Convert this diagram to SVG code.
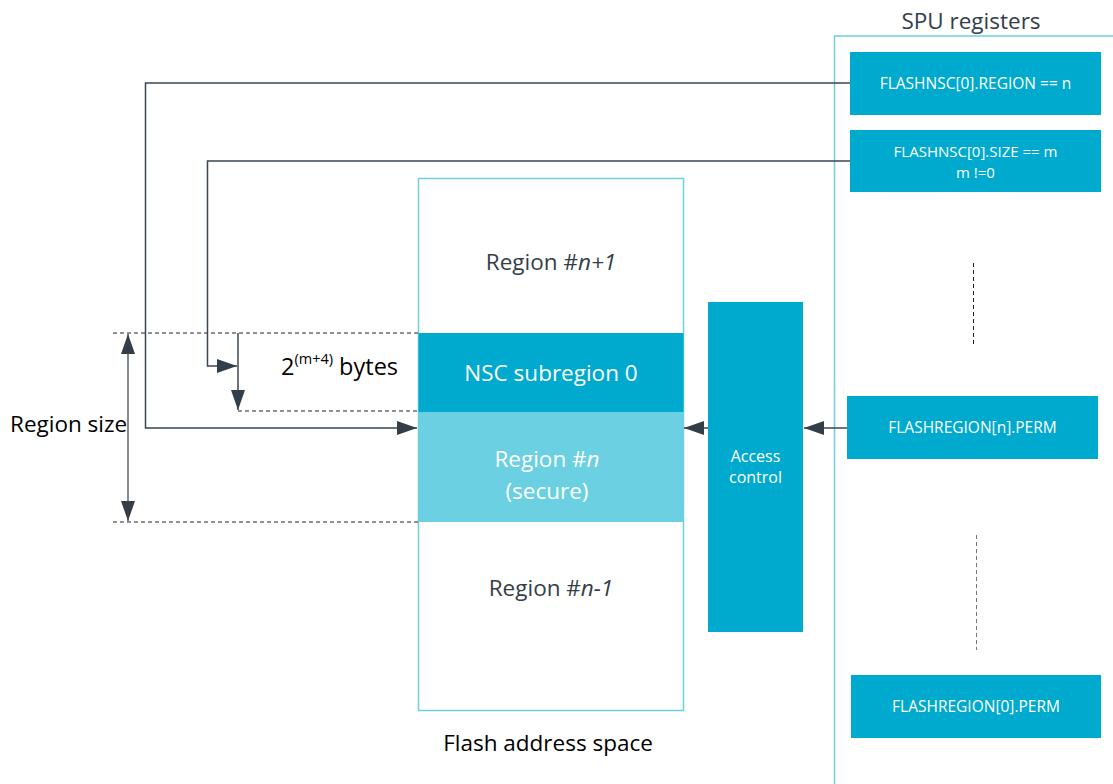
<svg xmlns="http://www.w3.org/2000/svg" width="1113" height="784" viewBox="0 0 1113 784">
<defs>
<style>
.frame{fill:none;stroke:#6dcfe0;stroke-width:1.5}
.reg{fill:#00a9ce}
.wt{fill:#ffffff;font-family:"Open Sans","Liberation Sans",sans-serif}
.dt{fill:#333e48;font-family:"Open Sans","Liberation Sans",sans-serif}
.bt{fill:#000000;font-family:"Open Sans","Liberation Sans",sans-serif}
.ln{fill:none;stroke:#3a4550;stroke-width:1.5}
.dash{fill:none;stroke:#222;stroke-width:1;stroke-dasharray:4 3}
</style>
<marker id="ah" viewBox="0 0 10 10" refX="10" refY="5" markerWidth="20" markerHeight="20" markerUnits="userSpaceOnUse" orient="auto-start-reverse">
<path d="M0,1.5 L10,5 L0,8.5 z" fill="#333e48"/>
</marker>
</defs>
<rect width="1113" height="784" fill="#ffffff"/>

<g id="spu-frame">
<path class="frame" d="M1113,36 H834.5 V784"/>
<text class="dt" x="971" y="29" font-size="22.5" text-anchor="middle">SPU registers</text>
</g>

<g id="flash">
<rect x="418.5" y="178.5" width="265" height="532" fill="#ffffff" class="frame"/>
<rect x="418.5" y="333" width="265" height="79" class="reg"/>
<rect x="418.5" y="412" width="265" height="110" fill="#6bd0e2"/>
<text class="dt" x="551" y="270" font-size="22.5" text-anchor="middle">Region #<tspan font-style="italic">n+1</tspan></text>
<text class="wt" x="551" y="381" font-size="22.5" text-anchor="middle">NSC subregion 0</text>
<text class="wt" x="547" y="467" font-size="22.5" text-anchor="middle">Region #<tspan font-style="italic">n</tspan></text>
<text class="wt" x="547" y="499" font-size="22.5" text-anchor="middle">(secure)</text>
<text class="dt" x="551" y="596" font-size="22.5" text-anchor="middle">Region #<tspan font-style="italic">n-1</tspan></text>
<text class="bt" x="548" y="751" font-size="22.5" text-anchor="middle">Flash address space</text>
</g>

<g id="access-control">
<rect x="708" y="302" width="95" height="330" class="reg"/>
<text class="wt" x="755.5" y="462" font-size="16" text-anchor="middle">Access</text>
<text class="wt" x="755.5" y="483" font-size="16" text-anchor="middle">control</text>
</g>

<g id="reg-nsc-region">
<rect x="850" y="52" width="251" height="63" class="reg"/>
<text class="wt" x="975.5" y="89" font-size="15.5" text-anchor="middle">FLASHNSC[0].REGION == n</text>
</g>
<g id="reg-nsc-size">
<rect x="850" y="130" width="251" height="62" class="reg"/>
<text class="wt" x="975.5" y="157" font-size="15" text-anchor="middle">FLASHNSC[0].SIZE == m</text>
<text class="wt" x="975.5" y="178" font-size="15" text-anchor="middle">m !=0</text>
</g>
<g id="reg-region-n">
<rect x="847" y="396" width="251" height="63" class="reg"/>
<text class="wt" x="972.5" y="433" font-size="15.5" text-anchor="middle">FLASHREGION[n].PERM</text>
</g>
<g id="reg-region-0">
<rect x="851" y="675" width="250" height="63" class="reg"/>
<text class="wt" x="976" y="712" font-size="15.5" text-anchor="middle">FLASHREGION[0].PERM</text>
</g>

<g id="labels">
<text class="bt" x="10" y="432" font-size="22.5">Region size</text>
<text class="bt" x="281" y="375" font-size="23.5">2<tspan font-size="14.5" dy="-11">(m+4)</tspan><tspan dy="11"> bytes</tspan></text>
</g>

<g id="connectors">
<line class="dash" x1="973.5" y1="263" x2="973.5" y2="344"/>
<line x1="976.5" y1="535" x2="976.5" y2="650" stroke="#777" stroke-width="1" stroke-dasharray="4 3"/>
<line class="dash" x1="113" y1="333" x2="418" y2="333"/>
<line class="dash" x1="238" y1="411" x2="418" y2="411"/>
<line class="dash" x1="113" y1="522" x2="418" y2="522"/>
<path class="ln" d="M850,83 H145.5 V428 H417" marker-end="url(#ah)"/>
<path class="ln" d="M850,161 H207.5 V366 H237" marker-end="url(#ah)"/>
<line class="ln" x1="238" y1="333" x2="238" y2="410" marker-end="url(#ah)"/>
<line x1="128" y1="334" x2="128" y2="521" stroke="#5a636b" stroke-width="1.5" marker-start="url(#ah)" marker-end="url(#ah)"/>
<line class="ln" x1="847" y1="428" x2="804" y2="428" stroke="#666" marker-end="url(#ah)"/>
<line class="ln" x1="708" y1="428" x2="684" y2="428" marker-end="url(#ah)"/>
</g>
</svg>
